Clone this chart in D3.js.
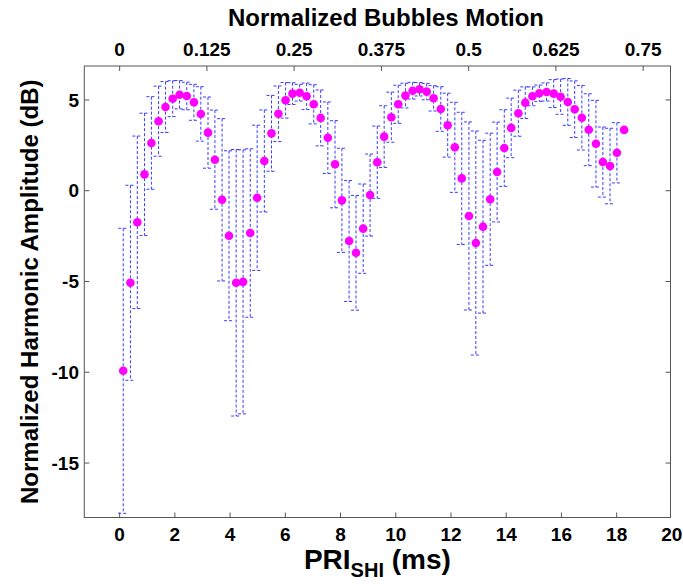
<!DOCTYPE html>
<html>
<head>
<meta charset="utf-8">
<script src="https://cdn.jsdelivr.net/npm/d3@7"></script>
<style>
  body { margin: 0; background: #fff; }
  text { font-family: "Liberation Sans", Arial, sans-serif; font-weight: bold; fill: #000; }
</style>
</head>
<body>
<div id="chart"></div>
<script>
// PRI (ms) of each measurement
const pri = [0.13, 0.39, 0.64, 0.90, 1.15, 1.41, 1.66, 1.92, 2.17, 2.43, 2.69, 2.94,
  3.20, 3.45, 3.71, 3.96, 4.22, 4.47, 4.73, 4.98, 5.24, 5.50, 5.75, 6.01,
  6.26, 6.52, 6.77, 7.03, 7.28, 7.54, 7.80, 8.05, 8.31, 8.56, 8.82, 9.07,
  9.33, 9.58, 9.84, 10.09, 10.35, 10.61, 10.86, 11.12, 11.37, 11.63, 11.88, 12.14,
  12.39, 12.65, 12.90, 13.16, 13.42, 13.67, 13.93, 14.18, 14.44, 14.69, 14.95, 15.20,
  15.46, 15.72, 15.97, 16.23, 16.48, 16.74, 16.99, 17.25, 17.50, 17.76, 18.01, 18.27];

// normalized harmonic amplitude (dB)
const amp = [-9.92, -5.07, -1.74, 0.90, 2.63, 3.83, 4.61, 5.07, 5.29, 5.22, 4.87, 4.23,
  3.20, 1.71, -0.50, -2.48, -5.07, -5.02, -2.33, -0.39, 1.64, 3.16, 4.24, 4.98,
  5.35, 5.40, 5.20, 4.76, 4.01, 2.92, 1.46, -0.53, -2.77, -3.42, -2.09, -0.24,
  1.57, 2.98, 4.05, 4.76, 5.24, 5.51, 5.59, 5.46, 5.09, 4.50, 3.61, 2.39,
  0.68, -1.39, -2.88, -1.98, -0.47, 1.03, 2.35, 3.46, 4.27, 4.85, 5.20, 5.37,
  5.44, 5.35, 5.18, 4.89, 4.49, 4.02, 3.36, 2.59, 1.58, 1.36, 2.09, 3.35];

// error bar half width (dB)
const err = [7.85, 5.37, 4.75, 3.37, 2.55, 1.93, 1.40, 0.99, 0.78, 0.76, 0.99, 1.50,
  1.96, 2.73, 4.47, 4.68, 7.34, 7.27, 4.64, 4.00, 2.81, 2.09, 1.53, 0.98,
  0.60, 0.46, 0.73, 1.08, 1.54, 1.97, 2.40, 2.87, 3.33, 3.16, 2.46, 2.26,
  1.99, 1.70, 1.38, 1.05, 0.68, 0.46, 0.37, 0.45, 0.70, 1.23, 1.76, 2.48,
  3.64, 5.18, 6.17, 4.76, 3.64, 2.75, 2.11, 1.64, 1.27, 0.87, 0.52, 0.45,
  0.50, 0.77, 0.97, 1.29, 1.56, 1.78, 1.98, 2.39, 1.93, 2.08, 1.66, 0];

const xTicks = [0, 2, 4, 6, 8, 10, 12, 14, 16, 18, 20];
const yTicks = [-15, -10, -5, 0, 5];
const motionTicks = [0, 0.125, 0.25, 0.375, 0.5, 0.625, 0.75];
const motionLabels = ["0", "0.125", "0.25", "0.375", "0.5", "0.625", "0.75"];
const motionPerMs = 0.75 / 18.96;

const W = 683, H = 586;
const margin = { left: 84.3, right: 670.5, top: 66, bottom: 517.5 };
const axisColor = "#555";
const barColor = "#3b3bff";

const svg = d3.select("#chart").append("svg")
  .attr("width", W).attr("height", H);

const x = d3.scaleLinear().domain([-1.28, 19.95]).range([margin.left, margin.right]);
const xTop = d3.scaleLinear()
  .domain([-1.28 * motionPerMs, 19.95 * motionPerMs])
  .range([margin.left, margin.right]);
const y = d3.scaleLinear().domain([-18, 6.87]).range([margin.bottom, margin.top]);

// box
svg.append("rect")
  .attr("x", margin.left).attr("y", margin.top)
  .attr("width", margin.right - margin.left).attr("height", margin.bottom - margin.top)
  .attr("fill", "none").attr("stroke", axisColor).attr("stroke-width", 1);

// bottom ticks
svg.selectAll(".xtick").data(xTicks.filter(d => x(d) < margin.right - 1)).join("line")
  .attr("x1", d => x(d)).attr("x2", d => x(d))
  .attr("y1", margin.bottom).attr("y2", margin.bottom - 5)
  .attr("stroke", axisColor);
svg.selectAll(".xlab").data(xTicks).join("text")
  .attr("x", d => x(d)).attr("y", 541)
  .attr("text-anchor", "middle").style("font-size", "19px")
  .text(d => d);

// top ticks
svg.selectAll(".ttick").data(motionTicks).join("line")
  .attr("x1", d => xTop(d)).attr("x2", d => xTop(d))
  .attr("y1", margin.top).attr("y2", margin.top + 5)
  .attr("stroke", axisColor);
svg.selectAll(".tlab").data(motionTicks).join("text")
  .attr("x", d => xTop(d)).attr("y", 56)
  .attr("text-anchor", "middle").style("font-size", "19px")
  .text((d, i) => motionLabels[i]);

// y ticks, left and right
svg.selectAll(".ytick").data(yTicks).join("line")
  .attr("x1", margin.left).attr("x2", margin.left + 5)
  .attr("y1", d => y(d)).attr("y2", d => y(d))
  .attr("stroke", axisColor);
svg.selectAll(".ytickr").data(yTicks).join("line")
  .attr("x1", margin.right).attr("x2", margin.right - 5)
  .attr("y1", d => y(d)).attr("y2", d => y(d))
  .attr("stroke", axisColor);
svg.selectAll(".ylab").data(yTicks).join("text")
  .attr("x", 79).attr("y", d => y(d))
  .attr("dy", "0.35em")
  .attr("text-anchor", "end").style("font-size", "19px")
  .text(d => d);

// axis titles
svg.append("text")
  .attr("x", 386).attr("y", 26)
  .attr("text-anchor", "middle").style("font-size", "24px")
  .text("Normalized Bubbles Motion");

svg.append("text")
  .attr("transform", `translate(38,${(margin.top + margin.bottom) / 2}) rotate(-90)`)
  .attr("text-anchor", "middle").style("font-size", "24px")
  .text("Normalized Harmonic Amplitude (dB)");

const xt = svg.append("text")
  .attr("x", (margin.left + margin.right) / 2).attr("y", 569)
  .attr("text-anchor", "middle").style("font-size", "28px");
xt.append("tspan").text("PRI");
xt.append("tspan").attr("dy", 8).style("font-size", "20px").text("SHI");
xt.append("tspan").attr("dy", -8).text(" (ms)");

// error bars
const data = pri.map((p, i) => ({ p: p, a: amp[i], e: err[i] }));
const bars = svg.append("g").attr("stroke", barColor).attr("stroke-width", 1)
  .attr("stroke-dasharray", "3,2").attr("fill", "none");
const withErr = data.filter(d => d.e > 0);
bars.selectAll(".v").data(withErr).join("line")
  .attr("class", "v")
  .attr("x1", d => x(d.p)).attr("x2", d => x(d.p))
  .attr("y1", d => y(d.a + d.e)).attr("y2", d => y(d.a - d.e));
bars.selectAll(".ct").data(withErr).join("line")
  .attr("class", "ct")
  .attr("x1", d => x(d.p) - 5).attr("x2", d => x(d.p) + 5)
  .attr("y1", d => y(d.a + d.e)).attr("y2", d => y(d.a + d.e));
bars.selectAll(".cb").data(withErr).join("line")
  .attr("class", "cb")
  .attr("x1", d => x(d.p) - 5).attr("x2", d => x(d.p) + 5)
  .attr("y1", d => y(d.a - d.e)).attr("y2", d => y(d.a - d.e));

// points
svg.append("g").selectAll("circle").data(data).join("circle")
  .attr("cx", d => x(d.p)).attr("cy", d => y(d.a))
  .attr("r", 4.3).attr("fill", "#ff00ff");
</script>
</body>
</html>
